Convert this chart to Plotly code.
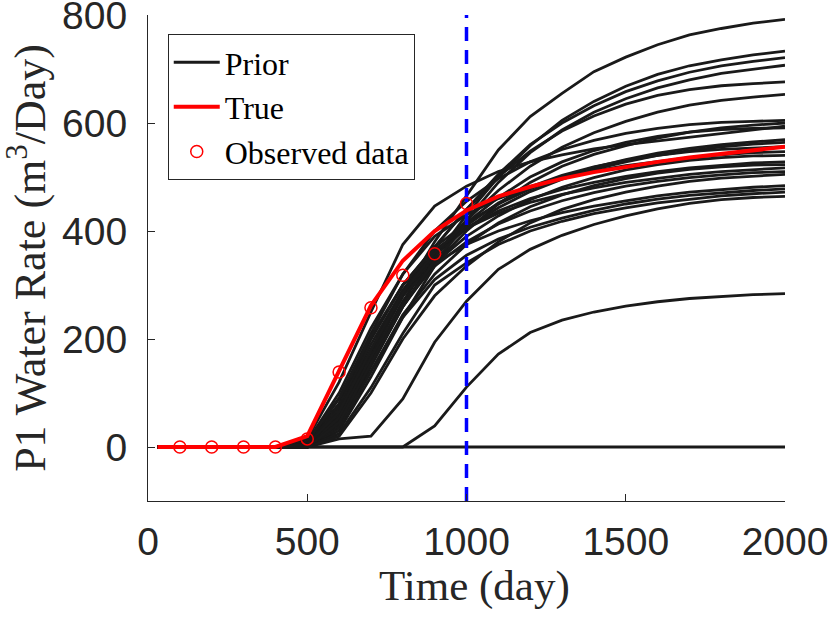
import plotly.graph_objects as go

# ---- data ----
times = [30, 100, 200, 300, 400, 500, 600, 700, 800, 900, 1000,
         1100, 1200, 1300, 1400, 1500, 1600, 1700, 1800, 1900, 2000]

true_rate = [0, 0, 0, 0, 0, 20, 140, 262, 345, 400, 438, 464, 482, 497, 509, 519, 528, 536, 543, 550, 556]

obs_times = [100, 200, 300, 400, 500, 600, 700, 800, 900, 1000]
obs_rate = [0, 0, 0, 0, 15, 139, 258, 318, 358, 451]

prior_01 = [0, 0, 0, 0, 0, 5, 60, 170, 280, 380, 465, 550, 612, 655, 695, 722, 745, 763, 775, 785, 792]
prior_02 = [0, 0, 0, 0, 0, 0, 40, 150, 260, 350, 430, 500, 558, 605, 640, 668, 690, 706, 717, 726, 733]
prior_03 = [0, 0, 0, 0, 0, 10, 80, 200, 300, 370, 440, 505, 560, 600, 632, 658, 678, 694, 706, 714, 721]
prior_04 = [0, 0, 0, 0, 0, 0, 30, 130, 240, 335, 420, 490, 545, 587, 620, 645, 665, 680, 692, 700, 707]
prior_05 = [0, 0, 0, 0, 0, 5, 70, 180, 290, 370, 440, 500, 548, 585, 613, 635, 651, 662, 669, 673, 676]
prior_06 = [0, 0, 0, 0, 0, 0, 50, 160, 270, 355, 420, 475, 520, 555, 582, 603, 620, 633, 642, 648, 653]
prior_07 = [0, 0, 0, 0, 0, 10, 90, 210, 320, 400, 455, 497, 528, 551, 568, 581, 590, 597, 601, 603, 605]
prior_08 = [0, 0, 0, 0, 0, 15, 120, 250, 375, 446, 483, 510, 528, 541, 552, 560, 567, 574, 580, 587, 594]
prior_09 = [0, 0, 0, 0, 0, 0, 40, 150, 260, 340, 400, 450, 490, 520, 542, 558, 572, 583, 591, 596, 600]
prior_10 = [0, 0, 0, 0, 0, 5, 80, 200, 300, 370, 415, 450, 478, 500, 518, 532, 544, 553, 560, 565, 569]
prior_11 = [0, 0, 0, 0, 0, 0, 60, 170, 280, 355, 405, 443, 473, 496, 514, 528, 540, 549, 556, 561, 564]
prior_12 = [0, 0, 0, 0, 0, 10, 100, 220, 320, 390, 430, 460, 482, 498, 511, 521, 529, 536, 541, 545, 547]
prior_13 = [0, 0, 0, 0, 0, 0, 50, 160, 265, 340, 390, 428, 458, 481, 499, 513, 523, 531, 536, 539, 540]
prior_14 = [0, 0, 0, 0, 0, 5, 75, 190, 290, 360, 405, 437, 460, 477, 490, 501, 510, 517, 522, 526, 528]
prior_15 = [0, 0, 0, 0, 0, 0, 35, 140, 245, 320, 375, 415, 445, 467, 484, 497, 507, 514, 519, 522, 523]
prior_16 = [0, 0, 0, 0, 0, 10, 90, 205, 300, 365, 405, 433, 453, 468, 480, 490, 498, 505, 510, 514, 517]
prior_17 = [0, 0, 0, 0, 0, 0, 55, 165, 265, 335, 380, 413, 437, 456, 471, 483, 492, 499, 504, 508, 510]
prior_18 = [0, 0, 0, 0, 0, 5, 70, 180, 280, 340, 375, 400, 419, 434, 446, 456, 465, 472, 477, 481, 484]
prior_19 = [0, 0, 0, 0, 0, 0, 40, 140, 240, 310, 355, 385, 407, 424, 438, 450, 459, 466, 471, 475, 478]
prior_20 = [0, 0, 0, 0, 0, 0, 25, 110, 210, 300, 341, 375, 400, 418, 432, 443, 452, 459, 465, 469, 472]
prior_21 = [0, 0, 0, 0, 0, 0, 15, 20, 89, 194, 270, 329, 366, 392, 412, 428, 441, 451, 458, 462, 464]
prior_22 = [0, 0, 0, 0, 0, 0, 0, 0, 0, 39, 111, 172, 212, 235, 250, 261, 269, 275, 279, 282, 284]
prior_23 = [0, 0, 0, 0, 0, 0, 0, 0, 0, 0, 0, 0, 0, 0, 0, 0, 0, 0, 0, 0, 0]
prior_24 = [0, 0, 0, 0, 0, 0, 45, 155, 260, 345, 410, 452, 482, 503, 519, 531, 540, 547, 551, 554, 556]
prior_25 = [0, 0, 0, 0, 0, 0, 20, 100, 200, 280, 335, 380, 415, 440, 458, 472, 483, 492, 498, 502, 505]
prior_26 = [0, 0, 0, 0, 0, 5, 65, 180, 285, 360, 415, 462, 500, 528, 549, 564, 575, 583, 588, 590, 591]

priors = [prior_01, prior_02, prior_03, prior_04, prior_05, prior_06, prior_07,
          prior_08, prior_09, prior_10, prior_11, prior_12, prior_13, prior_14,
          prior_15, prior_16, prior_17, prior_18, prior_19, prior_20, prior_21,
          prior_22, prior_23, prior_24, prior_25, prior_26]

split_time = 1000
y_range = [-100, 800]
x_range = [0, 2000]
x_ticks = [0, 500, 1000, 1500, 2000]
y_ticks = [0, 200, 400, 600, 800]

# ---- figure ----
fig = go.Figure()
for i, p in enumerate(priors):
    fig.add_trace(go.Scatter(
        x=times, y=p, mode="lines",
        line=dict(color="#1a1a1a", width=2.8),
        name="Prior", legendgroup="prior", showlegend=(i == 0),
    ))

fig.add_trace(go.Scatter(
    x=[split_time, split_time], y=y_range, mode="lines",
    line=dict(color="#0000ff", width=3.5, dash="14px,9px"),
    showlegend=False, hoverinfo="skip",
))

fig.add_trace(go.Scatter(
    x=times, y=true_rate, mode="lines",
    line=dict(color="#ff0000", width=4),
    name="True",
))
fig.add_trace(go.Scatter(
    x=obs_times, y=obs_rate, mode="markers",
    marker=dict(symbol="circle-open", color="#ff0000", size=12, line=dict(width=1.5, color="#ff0000")),
    name="Observed data",
))

axis_color = "#262626"
fig.update_layout(
    width=830, height=622,
    margin=dict(l=148, r=45, t=15, b=121),
    paper_bgcolor="white", plot_bgcolor="white",
    showlegend=True,
    legend=dict(
        x=0.031, y=0.961, xanchor="left", yanchor="top",
        bgcolor="white", bordercolor=axis_color, borderwidth=1,
        font=dict(family="Liberation Serif", size=32, color="black"),
        tracegroupgap=0, itemwidth=46,
    ),
    xaxis=dict(
        range=x_range, tickvals=x_ticks, showgrid=False, zeroline=False,
        automargin=False, ticklabeloverflow="allow",
        showline=True, linecolor=axis_color, linewidth=1,
        ticks="inside", ticklen=7, tickcolor=axis_color,
        tickfont=dict(family="Liberation Sans", size=39, color=axis_color),
        ticklabelstandoff=6,
    ),
    yaxis=dict(
        range=y_range, tickvals=y_ticks, showgrid=False, zeroline=False,
        automargin=False, ticklabeloverflow="allow",
        showline=True, linecolor=axis_color, linewidth=1,
        ticks="inside", ticklen=7, tickcolor=axis_color,
        tickfont=dict(family="Liberation Sans", size=39, color=axis_color),
        ticklabelstandoff=12,
        title=dict(text="P1 Water Rate (m<sup>3</sup>/Day)", font=dict(family="Liberation Serif", size=44, color=axis_color), standoff=8),
    ),
    annotations=[dict(
        text="Time (day)", xref="paper", yref="paper", x=0.513, y=-0.175,
        xanchor="center", yanchor="middle", showarrow=False,
        font=dict(family="Liberation Serif", size=43, color=axis_color),
    )],
)

fig.write_html(
    "out.html",
    config={"displayModeBar": False},
    post_script="document.body.style.margin='0';document.body.style.overflow='hidden';",
)
